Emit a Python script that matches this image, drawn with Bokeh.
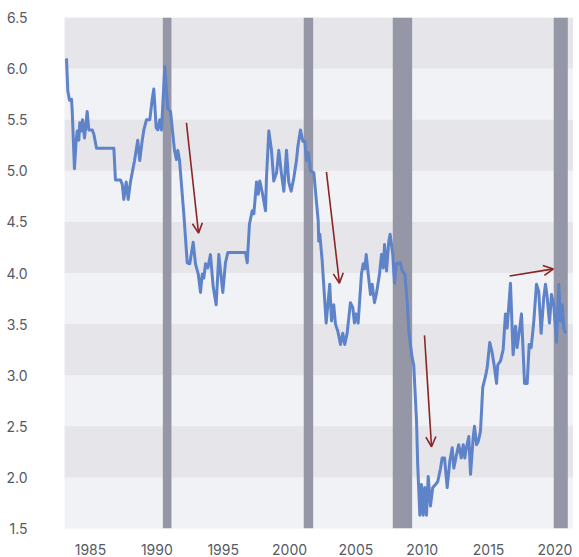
from bokeh.plotting import figure
from bokeh.models import (FixedTicker, NumeralTickFormatter, Range1d, Arrow, OpenHead,
                          ColumnDataSource)
from bokeh.embed import file_html
from bokeh.resources import INLINE

# ---------------- data ----------------
dates = [
    1983.19, 1983.29, 1983.42, 1983.57, 1983.62, 1983.79, 1983.92, 1984.00, 1984.12, 1984.19,
    1984.32, 1984.40, 1984.55, 1984.75, 1984.87, 1985.13, 1985.25, 1985.45, 1986.76, 1986.88,
    1987.26, 1987.39, 1987.51, 1987.69, 1987.84, 1988.01, 1988.32, 1988.56, 1988.71, 1988.90,
    1989.02, 1989.22, 1989.47, 1989.65, 1989.77, 1989.95, 1990.07, 1990.22, 1990.35, 1990.60,
    1990.82, 1991.03,
    1991.33, 1991.48, 1991.58, 1991.71, 1992.03, 1992.29, 1992.48, 1992.74, 1992.91, 1993.12,
    1993.29, 1993.42, 1993.54, 1993.67, 1993.84, 1994.04, 1994.25, 1994.47, 1994.67, 1994.97,
    1995.17, 1995.35, 1996.68, 1996.81, 1996.98, 1997.19, 1997.31, 1997.51, 1997.64, 1997.76,
    1997.94, 1998.19, 1998.26, 1998.44, 1998.64, 1998.81, 1999.02, 1999.19, 1999.39, 1999.57,
    1999.77, 1999.94, 2000.12, 2000.32, 2000.52, 2000.62, 2000.82,
    2001.00, 2001.15, 2001.28, 2001.41, 2001.58, 2001.83, 2002.16, 2002.20, 2002.28, 2002.46,
    2002.76, 2003.03, 2003.16, 2003.33, 2003.46, 2003.64, 2003.84, 2004.01, 2004.16, 2004.34,
    2004.59, 2004.77, 2004.89, 2005.02, 2005.17, 2005.42, 2005.55, 2005.67, 2005.78, 2005.93,
    2006.10, 2006.23, 2006.40, 2006.55, 2006.78, 2006.93, 2007.06, 2007.16, 2007.31, 2007.48,
    2007.58, 2007.78, 2007.91, 2008.06, 2008.36, 2008.49, 2008.69, 2008.87, 2008.99, 2009.11,
    2009.24, 2009.36, 2009.57, 2009.66, 2009.82, 2009.94, 2010.07, 2010.19, 2010.32, 2010.45,
    2010.62, 2010.79, 2011.00, 2011.17, 2011.38, 2011.50, 2011.68, 2011.88, 2012.08, 2012.26,
    2012.38, 2012.58, 2012.75, 2012.94, 2013.09, 2013.21, 2013.33, 2013.51, 2013.64, 2013.84,
    2013.94, 2014.09, 2014.22, 2014.39, 2014.56, 2014.77, 2014.89, 2015.09, 2015.27, 2015.44,
    2015.60, 2015.69, 2015.90, 2016.10, 2016.27, 2016.40, 2016.65, 2016.85, 2017.03, 2017.15,
    2017.35, 2017.48, 2017.71, 2017.91, 2018.06, 2018.21, 2018.41, 2018.61, 2018.78, 2018.96,
    2019.16, 2019.29, 2019.42, 2019.59, 2019.74, 2019.91, 2020.12, 2020.29, 2020.42, 2020.55,
    2020.67, 2020.80,
]
values = [
    6.10, 5.78, 5.69, 5.70, 5.59, 5.02, 5.30, 5.39, 5.30, 5.47,
    5.39, 5.50, 5.32, 5.58, 5.40, 5.40, 5.36, 5.22, 5.22, 4.91,
    4.91, 4.87, 4.72, 4.89, 4.72, 4.89, 5.10, 5.30, 5.10, 5.30,
    5.40, 5.50, 5.50, 5.70, 5.80, 5.42, 5.40, 5.50, 5.40, 6.02,
    5.61, 5.58,
    5.20, 5.11, 5.20, 5.10, 4.58, 4.10, 4.09, 4.30, 4.09, 3.99,
    3.81, 3.99, 3.95, 4.09, 4.05, 4.18, 3.86, 3.69, 4.18, 3.81,
    4.10, 4.20, 4.20, 4.10, 4.48, 4.61, 4.58, 4.89, 4.77, 4.90,
    4.79, 4.61, 4.93, 5.39, 5.20, 4.90, 4.98, 5.20, 4.97, 4.80,
    5.20, 4.89, 4.80, 4.93, 5.10, 5.23, 5.40,
    5.29, 5.29, 5.10, 5.18, 5.00, 4.98, 4.51, 4.31, 4.38, 4.12,
    3.51, 3.89, 3.53, 3.69, 3.50, 3.43, 3.30, 3.41, 3.30, 3.41,
    3.71, 3.66, 3.51, 3.60, 3.51, 3.99, 4.09, 4.04, 4.18, 3.99,
    3.79, 3.89, 3.71, 3.80, 3.99, 4.18, 4.05, 4.28, 4.02, 4.31,
    4.38, 4.18, 3.90, 4.09, 4.10, 4.02, 3.99, 3.72, 3.43, 3.30,
    3.17, 3.10, 2.55, 2.12, 1.63, 1.93, 1.63, 1.90, 1.63, 2.01,
    1.72, 1.90, 1.93, 1.96, 2.09, 2.19, 2.19, 1.90, 2.16, 2.29,
    2.09, 2.22, 2.32, 2.19, 2.32, 2.19, 2.29, 2.40, 2.03, 2.39,
    2.50, 2.32, 2.35, 2.45, 2.88, 2.99, 3.07, 3.32, 3.22, 3.08,
    2.92, 3.10, 3.14, 3.25, 3.60, 3.46, 3.90, 3.20, 3.48, 3.27,
    3.46, 3.60, 2.92, 2.92, 3.30, 3.27, 3.53, 3.89, 3.82, 3.41,
    3.76, 3.89, 3.76, 3.51, 3.79, 3.69, 3.32, 3.89, 3.53, 3.69,
    3.46, 3.41,
]

recession_start = [1990.45, 2001.07, 2007.78, 2019.91]
recession_end = [1991.10, 2001.78, 2009.24, 2020.97]

arrow_x0 = [1992.23, 2002.78, 2010.17, 2016.58]
arrow_y0 = [5.47, 4.99, 3.39, 3.97]
arrow_x1 = [1993.14, 2003.76, 2010.70, 2019.89]
arrow_y1 = [4.39, 3.90, 2.30, 4.04]

x_ticks = [1985, 1990, 1995, 2000, 2005, 2010, 2015, 2020]
y_ticks = [1.5, 2.0, 2.5, 3.0, 3.5, 4.0, 4.5, 5.0, 5.5, 6.0, 6.5]
y_min, y_max = 1.5, 6.5
x_min, x_max = 1983.04, 2021.40

# ---------------- figure ----------------
p = figure(width=573, height=557, output_backend="svg", toolbar_location=None,
           x_range=Range1d(x_min, x_max), y_range=Range1d(y_min, y_max))
p.min_border_left = 64
p.min_border_right = 0
p.min_border_top = 17
p.min_border_bottom = 0
p.outline_line_color = None
p.background_fill_color = "#F1F2F5"
p.border_fill_color = "white"

# zebra bands
p.xgrid.grid_line_color = None
p.ygrid.grid_line_color = None
p.ygrid.ticker = FixedTicker(ticks=y_ticks[1:])
p.ygrid.band_fill_color = "#E5E5EA"
p.ygrid.band_fill_alpha = 1.0

# recession bars
p.quad(left=recession_start, right=recession_end,
       bottom=[y_min] * len(recession_start), top=[y_max] * len(recession_start),
       fill_color="#9597A6", line_color=None)

# series
p.line(dates, values, line_color="#5E83C9", line_width=3, line_join="round")

# arrows
asrc = ColumnDataSource(dict(x0=arrow_x0, y0=arrow_y0, x1=arrow_x1, y1=arrow_y1))
p.add_layout(Arrow(x_start="x0", y_start="y0", x_end="x1", y_end="y1", source=asrc,
                   line_color="#8B2525", line_width=1.6,
                   end=OpenHead(size=10, line_color="#8B2525", line_width=1.6)))

# axes
for ax in (p.xaxis[0], p.yaxis[0]):
    ax.axis_line_color = None
    ax.major_tick_line_color = None
    ax.minor_tick_line_color = None
    ax.major_label_text_font = "Inter"
    ax.major_label_text_font_size = "14px"
    ax.major_label_text_color = "#555A64"

p.xaxis.ticker = FixedTicker(ticks=x_ticks)
p.xaxis.major_label_standoff = 9
p.yaxis.ticker = FixedTicker(ticks=y_ticks)
p.yaxis.formatter = NumeralTickFormatter(format="0.0")
p.yaxis.major_label_standoff = 31

open("out.html", "w").write(file_html(p, INLINE))
